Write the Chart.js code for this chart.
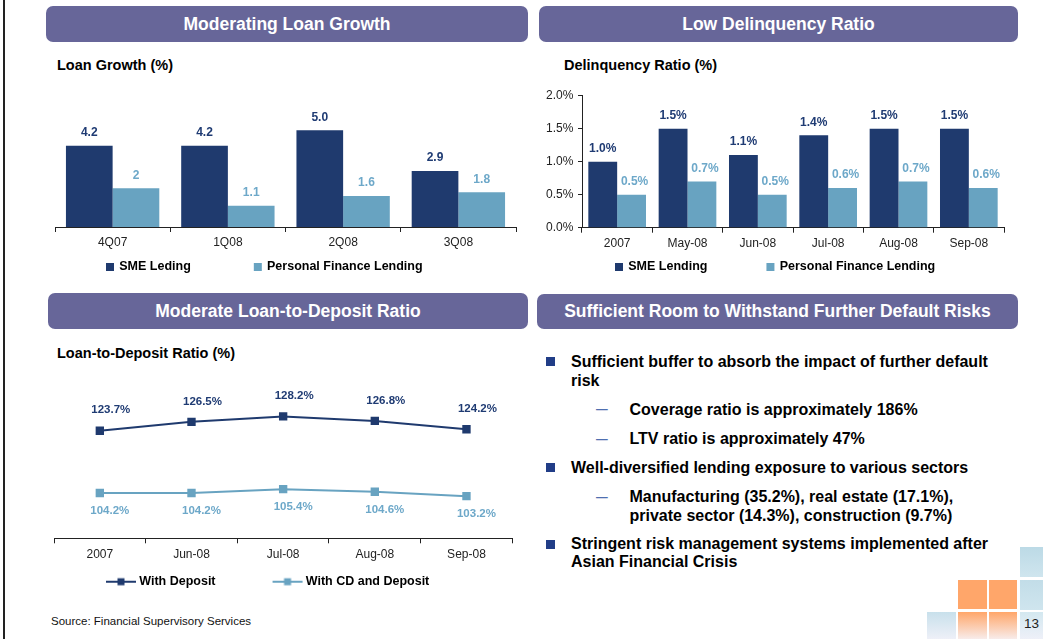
<!DOCTYPE html>
<html><head><meta charset="utf-8">
<script src="https://cdn.jsdelivr.net/npm/chart.js@4.4.1/dist/chart.umd.min.js"></script>
<style>
html,body{margin:0;padding:0;background:#fff;}
body{width:1043px;height:639px;position:relative;overflow:hidden;font-family:"Liberation Sans",Arial,sans-serif;}
.abs{position:absolute;}
.hdr{position:absolute;height:36px;background:#676699;border-radius:7px;color:#fff;font-weight:bold;font-size:17.5px;line-height:36px;text-align:center;white-space:nowrap;}
.ttl{position:absolute;font-weight:bold;font-size:14.5px;color:#000;line-height:16px;white-space:nowrap;}
canvas{position:absolute;}
.bul{position:absolute;width:9px;height:9px;background:#213D87;}
.txt{position:absolute;font-weight:bold;font-size:16px;line-height:19px;color:#000;white-space:nowrap;}
.dash{position:absolute;font-size:21px;line-height:20px;color:#4F6FB0;}
</style></head>
<body>
<div class="abs" style="left:3px;top:0;width:1.5px;height:639px;background:#222"></div>

<div class="hdr" style="left:46px;top:6px;width:482px;">Moderating Loan Growth</div>
<div class="hdr" style="left:539px;top:6px;width:479px;">Low Delinquency Ratio</div>
<div class="hdr" style="left:48px;top:293px;width:480px;">Moderate Loan-to-Deposit Ratio</div>
<div class="hdr" style="left:537px;top:294px;width:481px;height:35px;line-height:35px;">Sufficient Room to Withstand Further Default Risks</div>

<div class="ttl" style="left:57px;top:57px;">Loan Growth (%)</div>
<div class="ttl" style="left:564px;top:57px;">Delinquency Ratio (%)</div>
<div class="ttl" style="left:57px;top:345px;">Loan-to-Deposit Ratio (%)</div>

<canvas id="c1" width="490" height="190" style="left:40px;top:100px"></canvas>
<canvas id="c2" width="513" height="210" style="left:530px;top:80px"></canvas>
<canvas id="c3" width="490" height="230" style="left:40px;top:370px"></canvas>

<div class="abs" style="left:51px;top:614px;font-size:11.5px;line-height:14px;color:#111;white-space:nowrap;">Source: Financial Supervisory Services</div>

<div class="bul" style="left:546px;top:357px"></div>
<div class="txt" style="left:571px;top:352px;">Sufficient buffer to absorb the impact of further default<br>risk</div>
<div class="dash" style="left:596px;top:398px">–</div>
<div class="txt" style="left:629.5px;top:399.5px;">Coverage ratio is approximately 186%</div>
<div class="dash" style="left:596px;top:427.5px">–</div>
<div class="txt" style="left:629.5px;top:429px;">LTV ratio is approximately 47%</div>
<div class="bul" style="left:546px;top:463px"></div>
<div class="txt" style="left:571px;top:458px;">Well-diversified lending exposure to various sectors</div>
<div class="dash" style="left:596px;top:485.5px">–</div>
<div class="txt" style="left:629.5px;top:487px;line-height:19.3px;">Manufacturing (35.2%), real estate (17.1%),<br>private sector (14.3%), construction (9.7%)</div>
<div class="bul" style="left:546px;top:540px"></div>
<div class="txt" style="left:571px;top:535px;line-height:18.3px;">Stringent risk management systems implemented after<br>Asian Financial Crisis</div>

<div class="abs" style="left:1020px;top:547px;width:23px;height:30px;background:linear-gradient(#BCDAE6,#CFE5EE)"></div>
<div class="abs" style="left:958px;top:580px;width:28.5px;height:29px;background:#FFA66A"></div>
<div class="abs" style="left:989px;top:580px;width:28px;height:29px;background:#FFA66A"></div>
<div class="abs" style="left:1020px;top:580px;width:23px;height:30px;background:linear-gradient(#C2DDE8,#CFE5EE)"></div>
<div class="abs" style="left:927px;top:612px;width:29px;height:27px;background:linear-gradient(#C8E0EB,#EEF0F8)"></div>
<div class="abs" style="left:958px;top:612px;width:28.5px;height:27px;background:linear-gradient(#FFA66A,#F8ECEA)"></div>
<div class="abs" style="left:989px;top:612px;width:28px;height:27px;background:linear-gradient(#FFA66A,#F8ECEA)"></div>
<div class="abs" style="left:1020px;top:612px;width:23px;height:27px;background:linear-gradient(#D3E8F0,#EEF0F8)"></div>
<div class="abs" style="left:1024px;top:616px;font-size:13.5px;line-height:16px;color:#222;">13</div>

<script>
// ---------- data ----------
const loanQuarters = ['4Q07', '1Q08', '2Q08', '3Q08'];
const smeLoanGrowth = [4.2, 4.2, 5.0, 2.9];
const pfLoanGrowth = [2, 1.1, 1.6, 1.8];

const delinqMonths = ['2007', 'May-08', 'Jun-08', 'Jul-08', 'Aug-08', 'Sep-08'];
const smeDelinq = [1.0, 1.5, 1.1, 1.4, 1.5, 1.5];
const pfDelinq = [0.5, 0.7, 0.5, 0.6, 0.7, 0.6];

const ldrMonths = ['2007', 'Jun-08', 'Jul-08', 'Aug-08', 'Sep-08'];
const ldrDeposit = [123.7, 126.5, 128.2, 126.8, 124.2];
const ldrCdDeposit = [104.2, 104.2, 105.4, 104.6, 103.2];

// ---------- styling ----------
const FONT = '"Liberation Sans", Arial, sans-serif';
Chart.defaults.font.family = FONT;
Chart.defaults.color = '#222';
const NAVY = '#1F3A6E', LIGHT = '#68A3C1', LABEL_NAVY = '#1F3B73', LABEL_LIGHT = '#6DA8C9';
const AX = '#222';
const LEG_FS = 12.5;
const legFont = 'bold ' + LEG_FS + 'px ' + FONT;

function measure(t, font) {
  const c = document.createElement('canvas').getContext('2d');
  c.font = font; return c.measureText(t).width;
}
function sqMarker(g, x, cy, col) { g.fillStyle = col; g.fillRect(x, cy - 4, 8, 8); }
function lineMarker(g, x, cy, col) { g.fillStyle = col; g.fillRect(x, cy - 1, 30, 2); g.fillRect(x + 11.5, cy - 3.5, 7, 7); }

function buildLegend(canvasLeft, texts, textStarts, markerOffset, drawMarker, colors) {
  const hf = LEG_FS / 2;
  const t1 = measure(texts[0], legFont);
  const boxW = Math.round(textStarts[1] - textStarts[0] - hf - t1);
  const padLeft = Math.round(textStarts[0] - hf - boxW - canvasLeft);
  const imgs = colors.map(col => {
    const c = document.createElement('canvas');
    c.width = boxW + 20; c.height = 12;
    drawMarker(c.getContext('2d'), Math.round(10 + boxW + hf - markerOffset), 6, col);
    return c;
  });
  return { boxW, padLeft, imgs };
}
function legendOpts(L) {
  return {
    position: 'bottom', align: 'start',
    labels: {
      usePointStyle: true, pointStyleWidth: L.boxW, boxHeight: 8, padding: 0,
      font: { size: LEG_FS, weight: 'bold' }, color: '#000',
      generateLabels: chart => chart.data.datasets.map((ds, i) => ({
        text: ds.label, pointStyle: L.imgs[i], fillStyle: ds.backgroundColor,
        strokeStyle: ds.borderColor, lineWidth: 0, hidden: false, datasetIndex: i
      }))
    }
  };
}
function labelsPlugin(cfgs) {
  return {
    id: 'valueLabels',
    afterDatasetsDraw(chart) {
      const ctx = chart.ctx;
      chart.data.datasets.forEach((ds, di) => {
        const cfg = cfgs[di];
        const meta = chart.getDatasetMeta(di);
        ctx.save();
        ctx.font = cfg.font; ctx.fillStyle = cfg.color;
        ctx.textAlign = 'center'; ctx.textBaseline = 'middle';
        meta.data.forEach((el, i) => ctx.fillText(cfg.fmt(ds.data[i]), el.x + cfg.dx, el.y + cfg.dy));
        ctx.restore();
      });
    }
  };
}
const xGrid = { display: true, drawOnChartArea: false, drawTicks: true, tickLength: 5, color: AX, offset: true };

// ---------- chart 1 ----------
const L1 = buildLegend(40, ['SME Leding', 'Personal Finance Lending'], [119, 267], 13, sqMarker, [NAVY, LIGHT]);
new Chart(document.getElementById('c1'), {
  type: 'bar',
  data: { labels: loanQuarters, datasets: [
    { label: 'SME Leding', data: smeLoanGrowth, backgroundColor: NAVY },
    { label: 'Personal Finance Lending', data: pfLoanGrowth, backgroundColor: LIGHT }
  ] },
  options: {
    responsive: false, animation: false,
    layout: { padding: { left: L1.padLeft, right: 14, top: 11, bottom: 6.75 } },
    datasets: { bar: { categoryPercentage: 0.81, barPercentage: 1 } },
    scales: {
      x: { grid: xGrid, border: { display: true, color: AX }, ticks: { font: { size: 12 }, color: '#222', padding: 3 },
           afterFit(s) { s.height = 33.75; } },
      y: { min: 0, max: 6, grid: { display: false }, border: { display: false }, ticks: { display: false },
           afterFit(s) { s.width = 15 - L1.padLeft; } }
    },
    plugins: { legend: legendOpts(L1), tooltip: { enabled: false } }
  },
  plugins: [labelsPlugin([
    { font: 'bold 12px ' + FONT, color: LABEL_NAVY, dx: 0, dy: -13, fmt: v => v.toFixed(1) },
    { font: 'bold 12px ' + FONT, color: LABEL_LIGHT, dx: 0, dy: -13, fmt: v => String(v) }
  ])]
});

// ---------- chart 2 ----------
const L2 = buildLegend(530, ['SME Lending', 'Personal Finance Lending'], [628.5, 780], 13, sqMarker, [NAVY, LIGHT]);
new Chart(document.getElementById('c2'), {
  type: 'bar',
  data: { labels: delinqMonths, datasets: [
    { label: 'SME Lending', data: smeDelinq, backgroundColor: NAVY },
    { label: 'Personal Finance Lending', data: pfDelinq, backgroundColor: LIGHT }
  ] },
  options: {
    responsive: false, animation: false,
    layout: { padding: { left: L2.padLeft, right: 39, top: 15.7, bottom: 6.75 } },
    datasets: { bar: { categoryPercentage: 0.82, barPercentage: 1 } },
    scales: {
      x: { grid: xGrid, border: { display: true, color: AX }, ticks: { font: { size: 12 }, color: '#222', padding: 4 },
           afterFit(s) { s.height = 33.05; } },
      y: { min: 0, max: 2, grid: { display: true, drawOnChartArea: false, tickLength: 4, color: AX },
           border: { display: true, color: AX },
           ticks: { stepSize: 0.5, mirror: true, padding: -36, font: { size: 12 }, color: '#222', callback: v => v.toFixed(1) + '%' },
           afterFit(s) { s.width = 52 - L2.padLeft; } }
    },
    plugins: { legend: legendOpts(L2), tooltip: { enabled: false } }
  },
  plugins: [labelsPlugin([
    { font: 'bold 12px ' + FONT, color: LABEL_NAVY, dx: 0, dy: -13, fmt: v => v.toFixed(1) + '%' },
    { font: 'bold 12px ' + FONT, color: LABEL_LIGHT, dx: 3, dy: -13, fmt: v => v.toFixed(1) + '%' }
  ])]
});

// ---------- chart 3 ----------
const L3 = buildLegend(40, ['With Deposit', 'With CD and Deposit'], [139.5, 306], 33.3, lineMarker, [NAVY, LIGHT]);
new Chart(document.getElementById('c3'), {
  type: 'line',
  data: { labels: ldrMonths, datasets: [
    { label: 'With Deposit', data: ldrDeposit, borderColor: NAVY, backgroundColor: NAVY, borderWidth: 2,
      pointStyle: 'rect', pointRadius: 4.5, tension: 0 },
    { label: 'With CD and Deposit', data: ldrCdDeposit, borderColor: LIGHT, backgroundColor: LIGHT, borderWidth: 2,
      pointStyle: 'rect', pointRadius: 4.5, tension: 0 }
  ] },
  options: {
    responsive: false, animation: false,
    layout: { padding: { left: L3.padLeft, right: 17.7, top: 8.8, bottom: 2.05 } },
    scales: {
      x: { offset: true, grid: xGrid, border: { display: true, color: AX }, ticks: { font: { size: 12 }, color: '#222', padding: 4.5 },
           afterFit(s) { s.height = 37.15; } },
      y: { min: 90, max: 140, grid: { display: false }, border: { display: false }, ticks: { display: false },
           afterFit(s) { s.width = 14 - L3.padLeft; } }
    },
    plugins: { legend: legendOpts(L3), tooltip: { enabled: false } }
  },
  plugins: [labelsPlugin([
    { font: 'bold 11.5px ' + FONT, color: LABEL_NAVY, dx: 11, dy: -20.5, fmt: v => v.toFixed(1) + '%' },
    { font: 'bold 11.5px ' + FONT, color: LABEL_LIGHT, dx: 10, dy: 18, fmt: v => v.toFixed(1) + '%' }
  ])]
});
</script>
</body></html>
